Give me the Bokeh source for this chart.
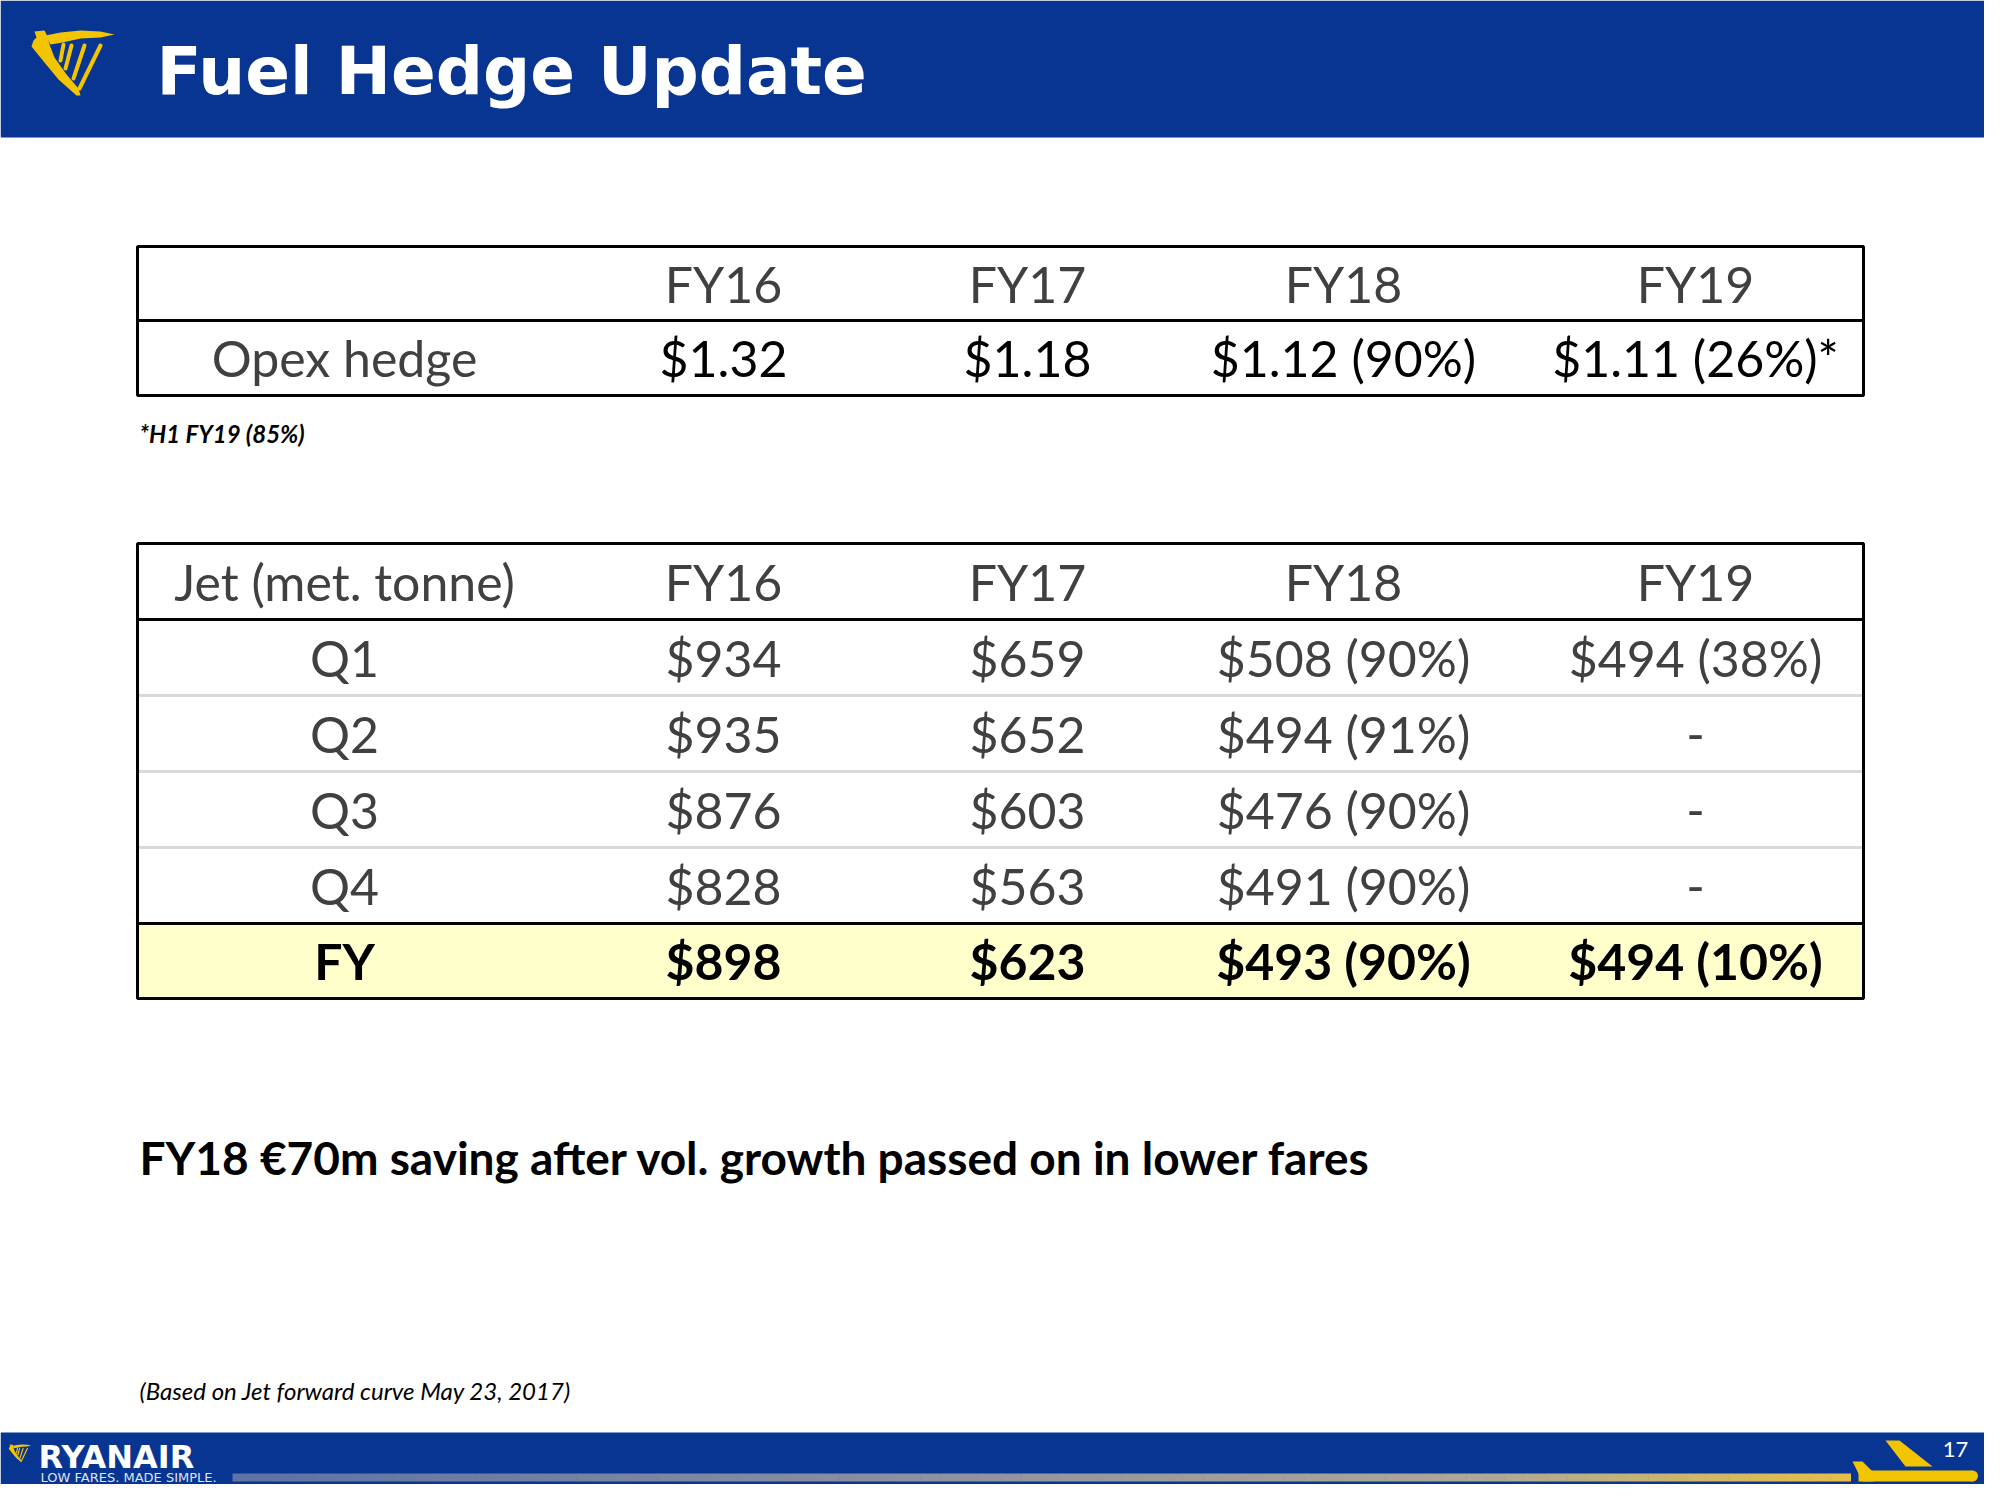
from bokeh.plotting import figure
from bokeh.models import Range1d
from bokeh.core.properties import value
from bokeh.embed import file_html
from bokeh.resources import INLINE

# ---------------- data ----------------
title = "Fuel Hedge Update"
years = ["FY16", "FY17", "FY18", "FY19"]
opex_label = "Opex hedge"
opex_values = ["$1.32", "$1.18", "$1.12 (90%)", "$1.11 (26%)*"]
opex_note = "*H1 FY19 (85%)"
jet_header = "Jet (met. tonne)"
quarters = ["Q1", "Q2", "Q3", "Q4"]
jet_fy16 = ["$934", "$935", "$876", "$828"]
jet_fy17 = ["$659", "$652", "$603", "$563"]
jet_fy18 = ["$508 (90%)", "$494 (91%)", "$476 (90%)", "$491 (90%)"]
jet_fy19 = ["$494 (38%)", "-", "-", "-"]
fy_label = "FY"
fy_totals = ["$898", "$623", "$493 (90%)", "$494 (10%)"]
headline = "FY18 €70m saving after vol. growth passed on in lower fares"
source_note = "(Based on Jet forward curve May 23, 2017)"
brand = "RYANAIR"
tagline = "LOW FARES. MADE SIMPLE."
page_number = "17"

# ---------------- styles / layout ----------------
BLUE = "#083591"
GOLD = "#f2c500"
GREY_TXT = "#404040"
FONT = "Lato"
FS = "50px"

PW, PH = 1984, 1484
p = figure(width=PW, height=PH, x_range=Range1d(0, PW), y_range=Range1d(PH, 0),
           output_backend="svg", toolbar_location=None, min_border=0)
p.axis.visible = False
p.grid.visible = False
p.outline_line_color = None
p.background_fill_color = "white"
p.border_fill_color = "white"

# header & footer bands
p.quad(left=[0], right=[PW], top=[0], bottom=[137], fill_color=BLUE, line_color=None)
p.quad(left=[0], right=[PW], top=[1432], bottom=[PH], fill_color=BLUE, line_color=None)


def harp(x0, y0, s):
    body = [(34, 31), (44, 30), (47, 36), (49, 44), (54, 57), (66, 74), (78, 88), (80, 95),
            (76, 95), (58, 79), (44, 62), (31, 46), (33, 40), (36, 37)]
    wing = [(45, 35), (60, 32), (80, 30), (100, 31), (114, 34), (100, 37), (80, 38), (62, 42), (50, 44)]
    xs = [[x0 + (x - 30) * s for x, _ in poly] for poly in (body, wing)]
    ys = [[y0 + (y - 30) * s for _, y in poly] for poly in (body, wing)]
    p.patches(xs, ys, fill_color=GOLD, line_color=None)
    strings = [((63, 44), (60, 60)), ((71, 45), (65, 68)), ((84, 45), (73, 78)), ((100, 45), (79, 88))]
    p.segment(x0=[x0 + (a[0] - 30) * s for a, b in strings], y0=[y0 + (a[1] - 30) * s for a, b in strings],
              x1=[x0 + (b[0] - 30) * s for a, b in strings], y1=[y0 + (b[1] - 30) * s for a, b in strings],
              line_color=GOLD, line_width=max(1.2, 4 * s), line_cap="round")


harp(30, 30, 1.0)
p.text(x=[156], y=[71], text=[title], text_color="white", text_font=value("DejaVu Sans"),
       text_font_style="bold", text_font_size="66px", text_baseline="middle", text_align="left")

# ---------------- table 1 ----------------
TX0, TX1 = 137, 1863
col_x = [344, 723, 1027, 1343, 1695]
t1 = [246, 320, 395]
p.quad(left=[TX0], right=[TX1], top=[t1[0]], bottom=[t1[2]], fill_color="white",
       line_color="black", line_width=3)
p.segment(x0=[TX0], x1=[TX1], y0=[t1[1]], y1=[t1[1]], line_color="black", line_width=3)
yh = (t1[0] + t1[1]) / 2
yv = (t1[1] + t1[2]) / 2
p.text(x=col_x[1:], y=[yh] * 4, text=years, text_color=GREY_TXT, text_font=value(FONT),
       text_font_size=FS, text_align="center", text_baseline="middle")
p.text(x=[col_x[0]], y=[yv], text=[opex_label], text_color=GREY_TXT, text_font=value(FONT),
       text_font_size=FS, text_align="center", text_baseline="middle")
p.text(x=col_x[1:], y=[yv] * 4, text=opex_values, text_color="black", text_font=value(FONT),
       text_font_size=FS, text_align="center", text_baseline="middle")
p.text(x=[139], y=[433], text=[opex_note], text_color="black", text_font=value(FONT),
       text_font_style="bold italic", text_font_size="24px", text_align="left", text_baseline="middle")

# ---------------- table 2 ----------------
rb = [543, 619, 695, 771, 847, 923, 998]
p.quad(left=[TX0], right=[TX1], top=[rb[5]], bottom=[rb[6]], fill_color="#ffffcc", line_color=None)
p.segment(x0=[TX0] * 3, x1=[TX1] * 3, y0=rb[2:5], y1=rb[2:5], line_color="#d9d9d9", line_width=3)
p.segment(x0=[TX0] * 2, x1=[TX1] * 2, y0=[rb[1], rb[5]], y1=[rb[1], rb[5]], line_color="black", line_width=3)
p.quad(left=[TX0], right=[TX1], top=[rb[0]], bottom=[rb[6]], fill_color=None,
       line_color="black", line_width=3)
centers = [(rb[i] + rb[i + 1]) / 2 for i in range(6)]
p.text(x=[col_x[0]], y=[centers[0]], text=[jet_header], text_color=GREY_TXT, text_font=value(FONT),
       text_font_size=FS, text_align="center", text_baseline="middle")
p.text(x=col_x[1:], y=[centers[0]] * 4, text=years, text_color=GREY_TXT, text_font=value(FONT),
       text_font_size=FS, text_align="center", text_baseline="middle")
for i, q in enumerate(quarters):
    row = [q, jet_fy16[i], jet_fy17[i], jet_fy18[i], jet_fy19[i]]
    p.text(x=col_x, y=[centers[i + 1]] * 5, text=row, text_color=GREY_TXT, text_font=value(FONT),
           text_font_size=FS, text_align="center", text_baseline="middle")
p.text(x=col_x, y=[centers[5]] * 5, text=[fy_label] + fy_totals, text_color="black",
       text_font=value(FONT), text_font_style="bold", text_font_size=FS,
       text_align="center", text_baseline="middle")

# ---------------- notes ----------------
p.text(x=[139], y=[1157], text=[headline], text_color="black", text_font=value(FONT),
       text_font_style="bold", text_font_size="46px", text_align="left", text_baseline="middle")
p.text(x=[139], y=[1390], text=[source_note], text_color="black", text_font=value(FONT),
       text_font_style="italic", text_font_size="24px", text_align="left", text_baseline="middle")

# ---------------- footer ----------------
harp(8, 1444, 0.27)
p.text(x=[38], y=[1456], text=[brand], text_color="white", text_font=value("DejaVu Sans"),
       text_font_style="bold", text_font_size="32px", text_align="left", text_baseline="middle")
p.text(x=[40], y=[1477], text=[tagline], text_color="#dfe4ef", text_font=value("DejaVu Sans"),
       text_font_size="13px", text_align="left", text_baseline="middle")

# gradient stripe
stops = [(247, (95, 115, 165)), (900, (140, 145, 160)), (1500, (175, 170, 150)), (1853, (232, 192, 70))]
n = 80
lefts, rights, cols = [], [], []
x_a, x_b = 232, 1850
for k in range(n):
    xa = x_a + (x_b - x_a) * k / n
    xb = x_a + (x_b - x_a) * (k + 1) / n + 0.5
    xm = (xa + xb) / 2
    c = stops[0][1]
    for j in range(len(stops) - 1):
        if stops[j][0] <= xm <= stops[j + 1][0]:
            t = (xm - stops[j][0]) / (stops[j + 1][0] - stops[j][0])
            c = tuple(int(stops[j][1][m] + (stops[j + 1][1][m] - stops[j][1][m]) * t) for m in range(3))
            break
    lefts.append(xa)
    rights.append(xb)
    cols.append("#%02x%02x%02x" % c)
p.quad(left=lefts, right=rights, top=[1473] * n, bottom=[1481] * n, fill_color=cols, line_color=None)

# plane
p.quad(left=[1858], right=[1972], top=[1470], bottom=[1481], fill_color=GOLD, line_color=None)
p.circle(x=[1972], y=[1475.5], radius=5.5, fill_color=GOLD, line_color=None)
p.patch(x=[1852, 1862, 1873, 1873, 1862], y=[1461, 1461, 1472, 1481, 1481], fill_color=GOLD, line_color=None)
p.patch(x=[1885, 1899, 1932, 1905], y=[1440, 1440, 1466, 1466], fill_color=GOLD, line_color=None)
p.text(x=[1955], y=[1449], text=[page_number], text_color="white", text_font=value("Lato"),
       text_font_size="22px", text_align="center", text_baseline="middle")

open("out.html", "w").write(file_html(p, INLINE))
